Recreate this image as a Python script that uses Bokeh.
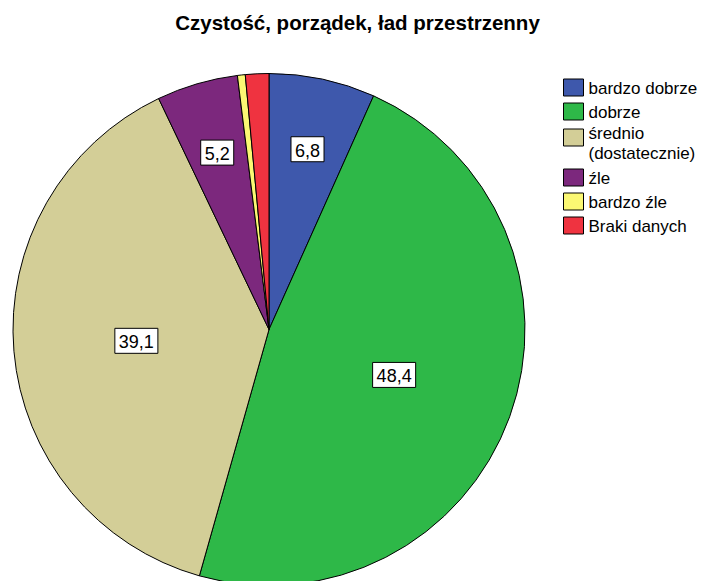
import math
from bokeh.plotting import figure
from bokeh.models import Range1d, ColumnDataSource
from bokeh.core.properties import value
from bokeh.embed import file_html
from bokeh.resources import INLINE

title = "Czystość, porządek, ład przestrzenny"
categories = ["bardzo dobrze", "dobrze", "średnio\n(dostatecznie)", "źle", "bardzo źle", "Braki danych"]
values = [6.8, 48.4, 39.1, 5.2, 0.5, 1.5]
labels = ["6,8", "48,4", "39,1", "5,2", "", ""]
colors = ["#3e58ac", "#2eb848", "#d3ce97", "#7c287d", "#fbf873", "#ef3340"]

W, H = 701, 581
FONT = "Liberation Sans"

p = figure(width=W, height=H, x_range=Range1d(0, W), y_range=Range1d(0, H),
           output_backend="svg", toolbar_location=None, min_border=0)
p.axis.visible = False
p.grid.visible = False
p.outline_line_color = None
p.background_fill_color = "white"

def px(x):
    return x
def py(y):
    return H - y

cx, cy, R = px(268.5), py(329), 256
total = sum(values)
starts, ends, lx, ly = [], [], [], []
cum = 0.0
for v in values:
    f0 = cum / total
    f1 = (cum + v) / total
    cum += v
    starts.append(math.pi / 2 - f1 * 2 * math.pi)
    ends.append(math.pi / 2 - f0 * 2 * math.pi)
    mid = math.pi / 2 - (f0 + f1) / 2 * 2 * math.pi
    rf = 0.72 if v < 10 else 0.52
    lx.append(cx + rf * R * math.cos(mid))
    ly.append(cy + rf * R * math.sin(mid))

src = ColumnDataSource(dict(start=starts, end=ends, color=colors))
p.wedge(x=cx, y=cy, radius=R, start_angle="start", end_angle="end",
        fill_color="color", line_color="black", line_width=1, source=src)

lab = [(x, y, t) for x, y, t in zip(lx, ly, labels) if t]
lsrc = ColumnDataSource(dict(x=[a[0] for a in lab], y=[a[1] for a in lab], t=[a[2] for a in lab]))
p.text(x="x", y="y", text="t", source=lsrc, text_font=value(FONT), text_font_size="18px",
       text_align="center", text_baseline="middle", text_color="black",
       background_fill_color="white", border_line_color="black", border_line_width=1,
       padding=dict(left=4, right=4, top=7, bottom=5))

# title
p.text(x=[px(357)], y=[py(22)], text=[title], text_font=value(FONT), text_font_size="20.5px",
       text_font_style="bold", text_align="center", text_baseline="alphabetic", text_color="black")

# legend
box_x = px(573)
text_x = px(588)
ycur = 78
bx, by, tx, ty = [], [], [], []
for c in categories:
    nlines = c.count("\n") + 1
    hrow = 24 if nlines == 1 else 42
    if nlines == 1:
        bcy = ycur + 9
        tcy = ycur + 9.5
    else:
        bcy = ycur + 11
        tcy = ycur + 17
    bx.append(box_x); by.append(py(bcy))
    tx.append(text_x); ty.append(py(tcy))
    ycur += hrow
p.rect(x=bx, y=by, width=20, height=17, fill_color=colors, line_color="black", line_width=1)
p.text(x=tx, y=ty, text=categories, text_font=value(FONT), text_font_size="17px",
       text_align="left", text_baseline="middle", text_color="black", text_line_height=1.1)

open("out.html", "w").write(file_html(p, INLINE))
